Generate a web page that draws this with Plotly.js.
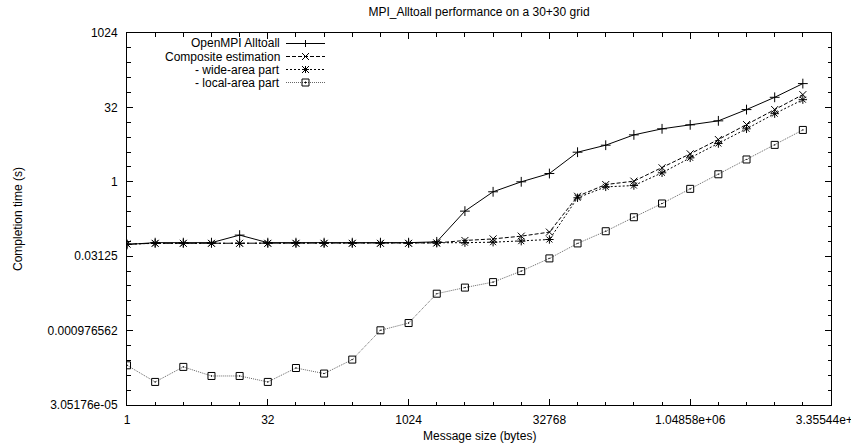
<!DOCTYPE html>
<html>
<head>
<meta charset="utf-8">
<script src="https://cdn.plot.ly/plotly-3.0.1.min.js"></script>
<style>
  html, body { margin: 0; padding: 0; background: #fff; }
  #chart { width: 851px; height: 444px; }
</style>
</head>
<body>
<div id="chart"></div>
<script>
// ---- data ----
const messageSizes = [1, 2, 4, 8, 16, 32, 64, 128, 256, 512, 1024, 2048, 4096, 8192,
  16384, 32768, 65536, 131072, 262144, 524288, 1048576, 2097152, 4194304, 8388608, 16777216];

const openmpiAlltoall = [0.054, 0.0587, 0.0587, 0.0587, 0.0835, 0.0587, 0.0587, 0.0587, 0.0587,
  0.0587, 0.0587, 0.061, 0.255, 0.628, 1.0, 1.47, 3.97, 5.5, 8.9, 11.8, 14.2, 17.1, 28.9, 51.2, 97];

const compositeEstimation = [0.055, 0.057, 0.057, 0.057, 0.057, 0.057, 0.057, 0.057, 0.057,
  0.057, 0.057, 0.058, 0.065, 0.070, 0.0795, 0.096, 0.51, 0.88, 1.03, 1.92, 3.68, 7.16, 14.4, 28.9, 58];

const wideAreaPart = [0.0548, 0.0568, 0.0568, 0.0568, 0.0568, 0.0568, 0.0568, 0.0568, 0.0568,
  0.0568, 0.0568, 0.0572, 0.0587, 0.060, 0.063, 0.068, 0.475, 0.79, 0.84, 1.52, 3.05, 5.94, 11.8, 23.9, 45.9];

const localAreaPart = [1.94e-4, 8.94e-5, 1.80e-4, 1.18e-4, 1.18e-4, 8.94e-5, 1.71e-4, 1.32e-4, 2.53e-4,
  9.9e-4, 1.39e-3, 5.45e-3, 7.24e-3, 9.35e-3, 0.0156, 0.0282, 0.0567, 0.1, 0.192, 0.364, 0.72, 1.42, 2.83, 5.58, 11.2];

const seriesNames = ['OpenMPI Alltoall', 'Composite estimation', '- wide-area part', '- local-area part'];

const xTickVals = [1, 32, 1024, 32768, 1048576, 33554432];
const xTickText = ['1', '32', '1024', '32768', '1.04858e+06', '3.35544e+07'];
const yTickVals = [3.0517578125e-5, 0.0009765625, 0.03125, 1, 32, 1024];
const yTickText = ['3.05176e-05', '0.000976562', '0.03125', '1', '32', '1024'];

// ---- styles ----
const FONT = 'Liberation Sans, Arial, Helvetica, sans-serif';
const styles = [
  { color: '#000', dash: 'solid', symbol: 'cross-thin-open', lw: 1, key: 'plus' },
  { color: '#000', dash: '4px,2px', symbol: 'x-thin-open', lw: 1, key: 'x' },
  { color: '#000', dash: '2px,2px', symbol: 'asterisk-open', lw: 1, key: 'star' },
  { color: '#666', dash: '1px,1px', symbol: 'square-open-dot', lw: 1, key: 'square' }
];
const series = [openmpiAlltoall, compositeEstimation, wideAreaPart, localAreaPart];

const traces = series.map((vals, i) => ({
  x: messageSizes,
  y: vals,
  name: seriesNames[i],
  type: 'scatter',
  mode: 'lines+markers',
  showlegend: false,
  line: { color: styles[i].color, width: styles[i].lw, dash: styles[i].dash },
  marker: { symbol: styles[i].symbol, size: 7, color: '#000',
            line: { color: '#000', width: 1 } }
}));

// minor ticks at each power of two
function minorPow2(lo, hi, majors) {
  const out = [];
  for (let e = lo; e <= hi; e++) {
    const v = Math.pow(2, e);
    if (!majors.some(m => Math.abs(m / v - 1) < 1e-9)) out.push(v);
  }
  return out;
}

const plotL = 127, plotT = 33, plotW = 704, plotH = 372;
const px2x = p => (p - plotL) / plotW;
const py2y = p => (plotT + plotH - p) / plotH;

// ---- key (gnuplot style: text right-aligned, sample on the right) ----
const annotations = [];
const shapes = [];
const keyRows = [43.5, 56.5, 69.5, 82.5];
const keyTextRight = 281, keyLine0 = 286, keyLine1 = 325, keyMid = 305.5;
seriesNames.forEach((name, i) => {
  const y = py2y(keyRows[i]);
  annotations.push({
    xref: 'paper', yref: 'paper', x: px2x(keyTextRight), y: y,
    xanchor: 'right', yanchor: 'middle', showarrow: false, borderpad: 0,
    text: name, font: { family: FONT, size: 12, color: '#000' }
  });
  shapes.push({
    type: 'line', xref: 'paper', yref: 'paper',
    x0: px2x(keyLine0), x1: px2x(keyLine1), y0: y, y1: y,
    line: { color: styles[i].color, width: 1, dash: styles[i].dash }
  });
  const base = { xref: 'paper', yref: 'paper', xsizemode: 'pixel', ysizemode: 'pixel',
                 xanchor: px2x(keyMid), yanchor: y, line: { color: '#000', width: 1 } };
  const s = 3.5;
  const seg = (x0, y0, x1, y1) => Object.assign({ type: 'line', x0, y0, x1, y1 }, base);
  if (styles[i].key === 'plus' || styles[i].key === 'star') {
    shapes.push(seg(-s, 0, s, 0));
    shapes.push(seg(0, -s, 0, s));
  }
  if (styles[i].key === 'x' || styles[i].key === 'star') {
    shapes.push(seg(-s, -s, s, s));
    shapes.push(seg(-s, s, s, -s));
  }
  if (styles[i].key === 'square') {
    shapes.push(Object.assign({ type: 'rect', x0: -s, y0: -s, x1: s, y1: s }, base));
    shapes.push(Object.assign({ type: 'rect', x0: -0.5, y0: -0.5, x1: 0.5, y1: 0.5, fillcolor: '#000' }, base));
  }
});

// axis titles
annotations.push({
  xref: 'paper', yref: 'paper', x: px2x(479), y: py2y(436),
  xanchor: 'center', yanchor: 'middle', showarrow: false,
  text: 'Message size (bytes)', font: { family: FONT, size: 12, color: '#000' }
});
annotations.push({
  xref: 'paper', yref: 'paper', x: px2x(18), y: 0.5,
  xanchor: 'center', yanchor: 'middle', showarrow: false, textangle: -90,
  text: 'Completion time (s)', font: { family: FONT, size: 12, color: '#000' }
});

const axisCommon = {
  type: 'log', showgrid: false, zeroline: false,
  showline: true, linecolor: '#000', linewidth: 1, mirror: 'ticks',
  ticks: 'inside', ticklen: 6, tickwidth: 1, tickcolor: '#000',
  tickmode: 'array', ticklabeloverflow: 'allow',
  tickfont: { family: FONT, size: 12, color: '#000' }
};

const EPS = 1e-7;
const layout = {
  width: 851, height: 444,
  margin: { l: plotL, r: 851 - plotL - plotW, t: plotT, b: 444 - plotT - plotH, pad: 0 },
  paper_bgcolor: '#fff', plot_bgcolor: '#fff',
  showlegend: false,
  title: {
    text: 'MPI_Alltoall performance on a 30+30 grid',
    font: { family: FONT, size: 12, color: '#000' },
    xref: 'paper', x: 0.5, xanchor: 'center',
    yref: 'container', y: 1 - 12 / 444, yanchor: 'middle'
  },
  xaxis: Object.assign({}, axisCommon, {
    range: [Math.log10(xTickVals[0]) - EPS, Math.log10(xTickVals[xTickVals.length - 1]) + EPS],
    tickvals: xTickVals, ticktext: xTickText,
    ticklabelstandoff: 4,
    minor: { tickmode: 'array', tickvals: minorPow2(0, 25, xTickVals),
             ticks: 'inside', ticklen: 3.5, tickcolor: '#000', tickwidth: 1, showgrid: false }
  }),
  yaxis: Object.assign({}, axisCommon, {
    range: [Math.log10(yTickVals[0]) - EPS, Math.log10(yTickVals[yTickVals.length - 1]) + EPS],
    tickvals: yTickVals, ticktext: yTickText,
    ticklabelstandoff: 6,
    minor: { tickmode: 'array', tickvals: minorPow2(-15, 10, yTickVals),
             ticks: 'inside', ticklen: 3.5, tickcolor: '#000', tickwidth: 1, showgrid: false }
  }),
  annotations: annotations,
  shapes: shapes
};

Plotly.newPlot('chart', traces, layout, { displayModeBar: false, staticPlot: true });
</script>
</body>
</html>
